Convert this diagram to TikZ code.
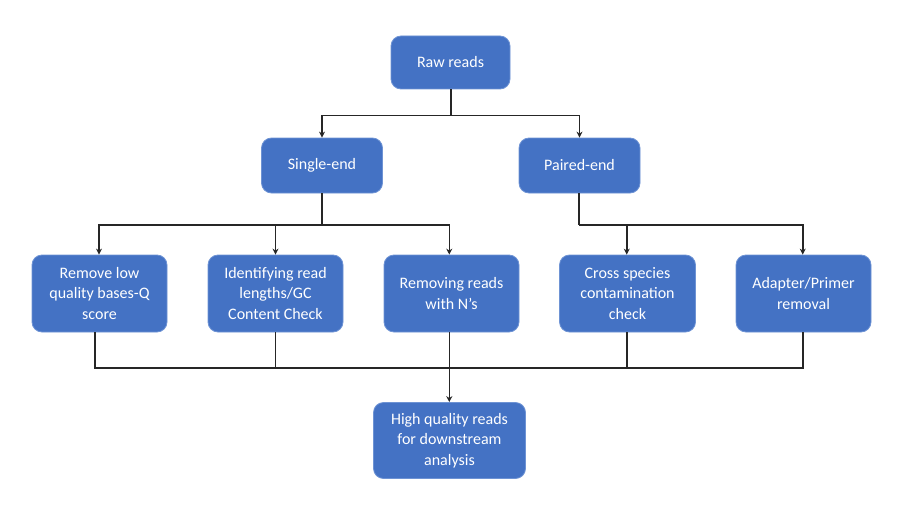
\documentclass[tikz,border=0pt]{standalone}
\usepackage{fontspec}
\setmainfont{Carlito}
\usetikzlibrary{arrows.meta}
\definecolor{boxblue}{HTML}{4472C4}
\definecolor{boxedge}{HTML}{6E93D4}
\tikzset{
  box/.style={draw=boxedge, line width=0.8pt, fill=boxblue, rounded corners=10pt,
    text=white, align=center, inner sep=0pt,
    font=\fontsize{16}{20.5}\selectfont},
  conn/.style={line width=1.6pt, draw=black!85},
  arr/.style={conn, -{Stealth[length=6pt,width=6pt]}}
}
\begin{document}
\begin{tikzpicture}[x=1pt,y=-1pt]
\useasboundingbox (0,0) rectangle (904,508);
\node[box, minimum width=119pt, minimum height=53pt] (raw) at (450.5,62.5) {Raw reads};
\node[box, minimum width=121pt, minimum height=55pt] (se) at (322,165.5) {Single-end};
\node[box, minimum width=121pt, minimum height=55pt] (pe) at (579.5,165.5) {Paired-end};
\node[box, minimum width=135pt, minimum height=77pt] (b1) at (99.5,293.5) {Remove low\\quality bases-Q\\score};
\node[box, minimum width=135pt, minimum height=77pt] (b2) at (275.5,293.5) {Identifying read\\lengths/GC\\Content Check};
\node[box, minimum width=135pt, minimum height=77pt] (b3) at (451.5,293.5) {Removing reads\\with N’s};
\node[box, minimum width=136pt, minimum height=77pt] (b4) at (627.5,293.5) {Cross species\\contamination\\check};
\node[box, minimum width=135pt, minimum height=77pt] (b5) at (803.5,293.5) {Adapter/Primer\\removal};
\node[box, minimum width=152pt, minimum height=76pt] (out) at (449.5,440.5) {High quality reads\\for downstream\\analysis};
\coordinate (j1) at (450.7,115.5);
\coordinate (j2) at (321.7,225);
\coordinate (j3) at (579,225);
\coordinate (j4) at (449.3,368);
\draw[conn] (raw.south -| j1) -- (j1);
\draw[arr] (j1) -| (se.north);
\draw[arr] (j1) -| (pe.north);
\draw[conn] (se.south -| j2) -- (j2);
\draw[conn] (pe.south -| j3) -- (j3);
\draw[arr] (j2) -| ([xshift=-0.5pt]b1.north);
\draw[arr] (j2) -| (b2.north);
\draw[arr] (j2) -| ([xshift=-2.2pt]b3.north);
\draw[arr] (j3) -| ([xshift=-0.8pt]b4.north);
\draw[arr] (j3) -| ([xshift=-0.8pt]b5.north);
\draw[conn] ([xshift=-4.5pt]b1.south) |- (j4);
\draw[conn] (b2.south) |- (j4);
\draw[conn] ([xshift=-0.8pt]b4.south) |- (j4);
\draw[conn] ([xshift=-0.8pt]b5.south) |- (j4);
\draw[arr] (b3.south -| j4) -- (out.north -| j4);
\end{tikzpicture}
\end{document}
